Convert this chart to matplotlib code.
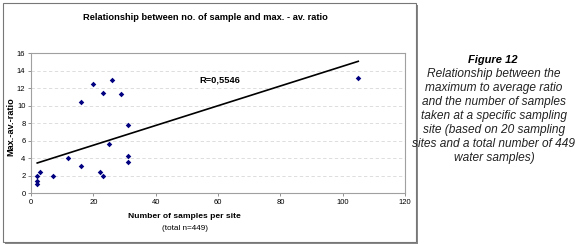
import matplotlib
matplotlib.use("Agg")
import matplotlib.pyplot as plt
import numpy as np
from matplotlib.patches import Rectangle

samples = [2, 2, 2, 3, 7, 12, 16, 16, 20, 22, 23, 23, 25, 26, 29, 31, 31, 31, 105]
ratio = [2.0, 1.37, 1.03, 2.4, 2.0, 4.05, 3.1, 10.4, 12.5, 2.4, 2.0, 11.4, 5.6, 12.9, 11.35, 7.8, 4.2, 3.5, 13.2]
trend_x = [2, 105]
trend_y = [3.43, 15.05]
x_ticks = [0, 20, 40, 60, 80, 100, 120]
y_ticks = [0, 2, 4, 6, 8, 10, 12, 14, 16]

plt.rcParams['font.family'] = ['Liberation Sans', 'DejaVu Sans']

W, H = 580, 245
fig = plt.figure(figsize=(W/100, H/100), dpi=100)
fig.patch.set_facecolor('white')

# chart frame with shadow
fig.patches.append(Rectangle((5/W, 1/H), 413/W, 239/H, transform=fig.transFigure,
                             facecolor='#888888', edgecolor='none', zorder=0))
fig.patches.append(Rectangle((3/W, 3/H), 413/W, 239/H, transform=fig.transFigure,
                             facecolor='white', edgecolor='#777777', linewidth=0.8, zorder=0.5))

l, r, t, b = 31, 405, 53, 193
ax = fig.add_axes([l/W, 1 - b/H, (r-l)/W, (b-t)/H])
ax.set_zorder(2)
ax.set_facecolor('white')
ax.set_xlim(0, 120)
ax.set_ylim(0, 16)
ax.set_xticks(x_ticks)
ax.set_yticks(y_ticks)
ax.tick_params(labelsize=5.5, length=2, width=0.6, color='#808080', pad=2)
for s in ax.spines.values():
    s.set_color('#a0a0a0')
    s.set_linewidth(0.8)
ax.yaxis.grid(True, linestyle=(0, (4, 3)), color='#d8d8d8', linewidth=0.6)
ax.set_axisbelow(True)

ax.plot(trend_x, trend_y, color='black', linewidth=1.2, zorder=2)
ax.scatter(samples, ratio, marker='D', s=8, color='#000080', zorder=3, linewidths=0)

ax.text(54, 12.9, 'R=0,5546', fontsize=6.7, fontweight='bold', ha='left', va='center')

fig.text(205/W, 1 - 18/H, 'Relationship between no. of sample and max. - av. ratio',
         fontsize=6.7, fontweight='bold', ha='center', va='center', zorder=3)
fig.text(11/W, 1 - 127/H, 'Max.-av.-ratio', fontsize=6.6, fontweight='bold',
         rotation=90, ha='center', va='center', zorder=3)
fig.text(184/W, 1 - 216/H, 'Number of samples per site', fontsize=6.1, fontweight='bold',
         ha='center', va='center', zorder=3)
fig.text(185/W, 1 - 228/H, '(total n=449)', fontsize=5.9, ha='center', va='center', zorder=3)

fig.text(493/W, 1 - 60/H, 'Figure 12', fontsize=8, fontweight='bold', style='italic',
         ha='center', va='center')
caption = ['Relationship between the', 'maximum to average ratio', 'and the number of samples',
           'taken at a specific sampling', 'site (based on 20 sampling',
           'sites and a total number of 449', 'water samples)']
for i, line in enumerate(caption):
    fig.text(494/W, 1 - (74.3 + i*13.9)/H, line, fontsize=8.6, style='italic',
             ha='center', va='center', color='#222222')

fig.savefig('out.png', dpi=100)
